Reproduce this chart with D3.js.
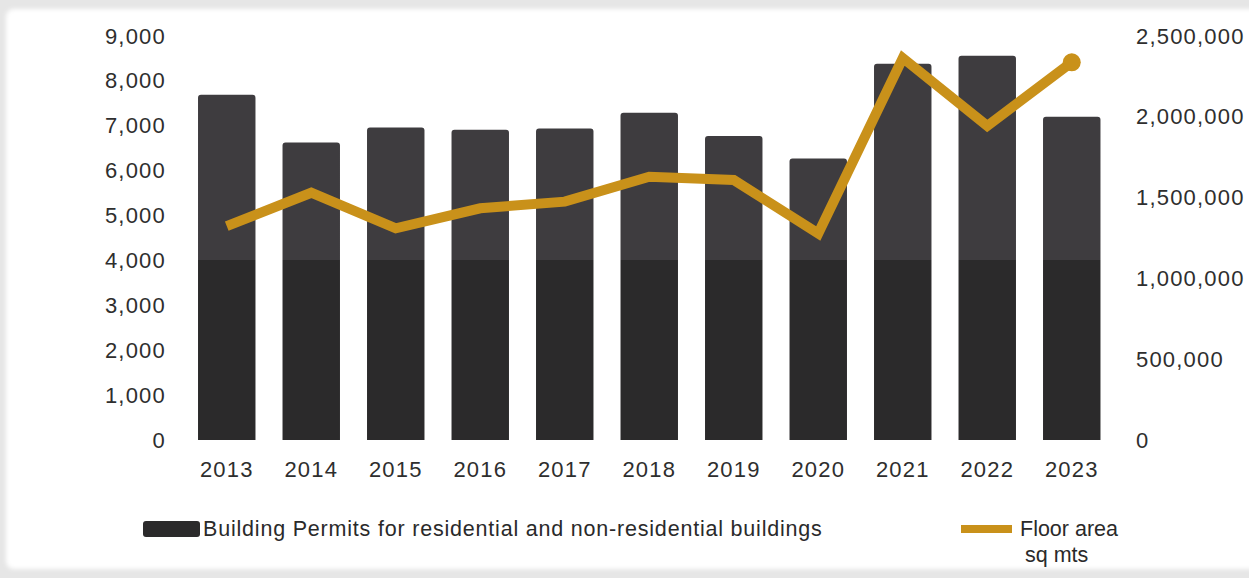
<!DOCTYPE html>
<html>
<head>
<meta charset="utf-8">
<script src="https://cdn.jsdelivr.net/npm/d3@7"></script>
<style>
  html, body { margin: 0; padding: 0; background: #e6e6e6; }
  svg { display: block; }
  .tick text { font-family: "Liberation Sans", Arial, sans-serif; fill: #2e2e2e; }
</style>
</head>
<body>
<svg id="chart" width="1249" height="578"></svg>
<script>
// Building permits (bars, left axis) and floor area (line, right axis)
const years = ["2013", "2014", "2015", "2016", "2017", "2018", "2019", "2020", "2021", "2022", "2023"];
const permits = [7690, 6630, 6960, 6910, 6940, 7290, 6770, 6270, 8380, 8560, 7200];
const floorArea = [1324000, 1530000, 1310000, 1434000, 1475000, 1629000, 1609000, 1278000, 2364000, 1943000, 2337000];
const leftTicks = [0, 1000, 2000, 3000, 4000, 5000, 6000, 7000, 8000, 9000];
const rightTicks = [0, 500000, 1000000, 1500000, 2000000, 2500000];
const barLegend = "Building Permits for residential and non-residential buildings";
const lineLegend = ["Floor area", "sq mts"];

const W = 1249, H = 578;
const svg = d3.select("#chart");
const defs = svg.append("defs");

// soft-edged white card on grey page
const soft = defs.append("filter").attr("id", "soft")
  .attr("x", "-5%").attr("y", "-5%").attr("width", "110%").attr("height", "110%");
soft.append("feGaussianBlur").attr("stdDeviation", 2);
svg.append("rect").attr("x", 6).attr("y", 9).attr("width", W + 20).attr("height", 560)
  .attr("rx", 8).attr("fill", "#ffffff").attr("filter", "url(#soft)");

const plotTop = 36, plotBottom = 440;
const x = d3.scaleBand().domain(years).range([184.5, 1114])
  .paddingInner(0.32).paddingOuter(0.16);
const yL = d3.scaleLinear().domain([0, 9000]).range([plotBottom, plotTop]);
const yR = d3.scaleLinear().domain([0, 2500000]).range([plotBottom, plotTop]);

// two-tone bar fill: lighter above the 4,000 level, darker below
const split = (yL(4000) - yL(9000)) / (yL(0) - yL(9000));
const grad = defs.append("linearGradient").attr("id", "barFill")
  .attr("gradientUnits", "userSpaceOnUse")
  .attr("x1", 0).attr("x2", 0).attr("y1", yL(9000)).attr("y2", yL(0));
grad.append("stop").attr("offset", 0).attr("stop-color", "#3e3c3f");
grad.append("stop").attr("offset", split).attr("stop-color", "#3e3c3f");
grad.append("stop").attr("offset", split).attr("stop-color", "#2b2a2b");
grad.append("stop").attr("offset", 1).attr("stop-color", "#2b2a2b");

// bars with rounded top corners
function topRounded(x0, y0, w, h, r) {
  return `M${x0},${y0 + h}V${y0 + r}Q${x0},${y0} ${x0 + r},${y0}H${x0 + w - r}Q${x0 + w},${y0} ${x0 + w},${y0 + r}V${y0 + h}Z`;
}
svg.append("g").selectAll("path").data(years).join("path")
  .attr("d", (d, i) => topRounded(x(d), yL(permits[i]), x.bandwidth(), yL(0) - yL(permits[i]), 3))
  .attr("fill", "url(#barFill)");

// floor-area line
const lineColor = "#c9911a";
const pts = years.map((d, i) => [x(d) + x.bandwidth() / 2, yR(floorArea[i])]);
svg.append("path").datum(pts)
  .attr("d", d3.line())
  .attr("fill", "none").attr("stroke", lineColor).attr("stroke-width", 10)
  .attr("stroke-linejoin", "miter").attr("stroke-miterlimit", 10).attr("stroke-linecap", "butt");
const last = pts[pts.length - 1];
svg.append("circle").attr("cx", last[0]).attr("cy", last[1]).attr("r", 9).attr("fill", lineColor);

// axes
const fmt = d3.format(",");
const gl = svg.append("g").attr("transform", "translate(166,0)")
  .call(d3.axisLeft(yL).tickValues(leftTicks).tickFormat(fmt).tickSize(0).tickPadding(0));
const gr = svg.append("g").attr("transform", "translate(1136,0)")
  .call(d3.axisRight(yR).tickValues(rightTicks).tickFormat(fmt).tickSize(0).tickPadding(0));
const gb = svg.append("g").attr("transform", `translate(0,${plotBottom})`)
  .call(d3.axisBottom(x).tickSize(0).tickPadding(21));
[gl, gr, gb].forEach(g => {
  g.select(".domain").remove();
  g.selectAll("text").attr("font-size", 22).style("letter-spacing", "1.2px");
});

// legend
const lg = svg.append("g").attr("font-family", "\"Liberation Sans\", Arial, sans-serif")
  .attr("font-size", 21.5).attr("fill", "#2a2a2a");
lg.append("rect").attr("x", 143).attr("y", 521).attr("width", 57).attr("height", 16)
  .attr("rx", 3).attr("fill", "#2b2a2b");
lg.append("text").attr("x", 203).attr("y", 536).style("letter-spacing", "0.8px").text(barLegend);
lg.append("line").attr("x1", 961).attr("x2", 1012).attr("y1", 529).attr("y2", 529)
  .attr("stroke", lineColor).attr("stroke-width", 8);
lg.append("text").attr("x", 1020).attr("y", 536).text(lineLegend[0]);
lg.append("text").attr("x", 1025).attr("y", 562).text(lineLegend[1]);
</script>
</body>
</html>
